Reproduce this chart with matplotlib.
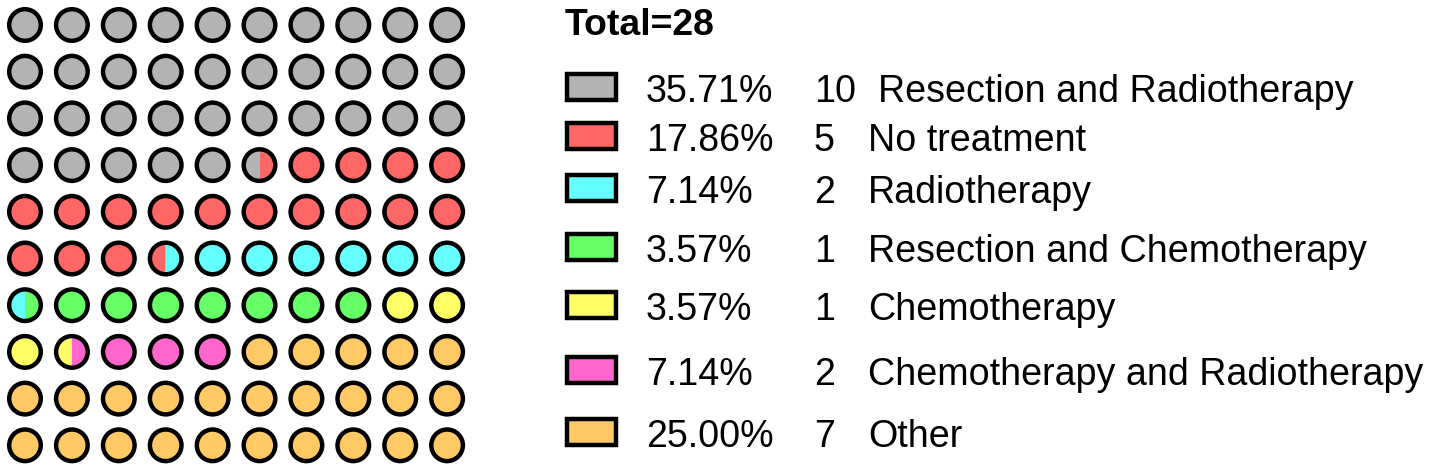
import matplotlib
matplotlib.use("Agg")
import matplotlib.pyplot as plt
from matplotlib.patches import Circle, Wedge, Rectangle
import numpy as np

# ---- data ----
title = "Total=28"
legend_pcts = ["35.71%", "17.86%", "7.14%", "3.57%", "3.57%", "7.14%", "25.00%"]
legend_counts = ["10", "5", "2", "1", "1", "2", "7"]
legend_labels = ["Resection and Radiotherapy", "No treatment", "Radiotherapy",
                 "Resection and Chemotherapy", "Chemotherapy",
                 "Chemotherapy and Radiotherapy", "Other"]
colors = ["#B3B3B3", "#FF6666", "#66FFFF", "#66FF66", "#FFFF66", "#FF66CC", "#FFC966"]
# shares as filled in the dot grid (order of colours above)
grid_shares = [35.71, 17.86, 7.14, 7.14, 3.57, 3.57, 25.00]

# ---- layout ----
W, H = 1429, 472
fig = plt.figure(figsize=(W / 100, H / 100), dpi=100)
ax = fig.add_axes([0, 0, 1, 1])
ax.set_xlim(0, W)
ax.set_ylim(H, 0)
ax.axis("off")

x0, dx = 25.0, 46.9
y0, dy = 25.0, 46.7
r = 15.8
lw = 3.2

bounds = np.round(np.cumsum(grid_shares) * 2) / 2.0

def cat_at(v):
    return int(np.searchsorted(bounds, v))

for i in range(100):
    row, col = divmod(i, 10)
    cx, cy = x0 + col * dx, y0 + row * dy
    cl = cat_at(i + 0.25)
    cr = cat_at(i + 0.75)
    if cl == cr:
        ax.add_patch(Circle((cx, cy), r, facecolor=colors[cl], edgecolor="none"))
    else:
        ax.add_patch(Wedge((cx, cy), r, 90, 270, facecolor=colors[cl], edgecolor="none"))
        ax.add_patch(Wedge((cx, cy), r, -90, 90, facecolor=colors[cr], edgecolor="none"))
    ax.add_patch(Circle((cx, cy), r, facecolor="none", edgecolor="black", linewidth=lw))

font = "Liberation Sans"
ax.text(565, 35, title, fontsize=26.9, fontweight="bold", family=font,
        ha="left", va="baseline")

fs = 27.1
row_bottoms = [102, 151, 203, 262, 320, 385, 447]
label_x = [878, 868, 868, 868, 868, 868, 868]
for k in range(len(legend_labels)):
    yb = row_bottoms[k]
    ax.add_patch(Rectangle((567, yb - 28), 49, 26, facecolor=colors[k],
                           edgecolor="black", linewidth=lw))
    ax.text(646, yb, legend_pcts[k], fontsize=fs, family=font, ha="left", va="baseline")
    ax.text(814, yb, legend_counts[k], fontsize=fs, family=font, ha="left", va="baseline")
    ax.text(label_x[k], yb, legend_labels[k], fontsize=fs, family=font,
            ha="left", va="baseline")

fig.savefig("out.png", dpi=100)
